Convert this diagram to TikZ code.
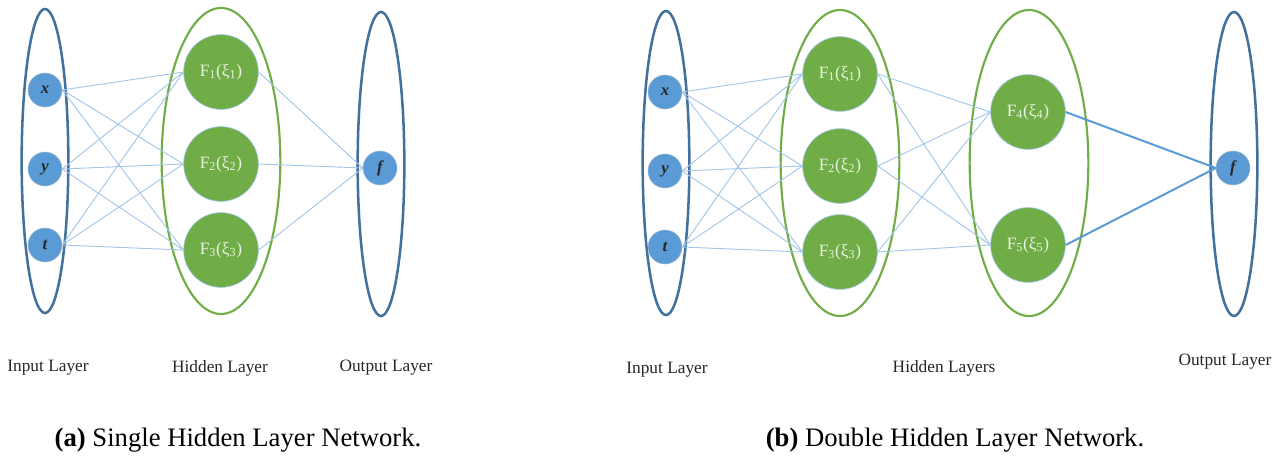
\documentclass[tikz,border=0pt]{standalone}
\usepackage{fontspec}
\setmainfont{Liberation Serif}
\usetikzlibrary{shapes.geometric}
\definecolor{inblue}{HTML}{5B9BD5}
\definecolor{darkblue}{HTML}{41719C}
\definecolor{hgreen}{HTML}{70AD47}
\definecolor{edgeblue}{HTML}{A3C6E8}
\definecolor{ftext}{HTML}{EAF2E3}
\begin{document}
\begin{tikzpicture}[x=0.75pt,y=-0.75pt,
  layerio/.style={ellipse, draw=darkblue, line width=1.9pt, minimum width=35pt, minimum height=228pt, inner sep=0pt},
  layerhid/.style={ellipse, draw=hgreen, line width=1.6pt, minimum width=89pt, minimum height=229.5pt, inner sep=0pt},
  inode/.style={circle, fill=inblue, draw=darkblue!50, line width=0.4pt, minimum size=25.5pt, inner sep=0pt, font=\fontsize{12.5}{13}\selectfont\bfseries\itshape, text=black!85},
  fnode/.style={circle, fill=hgreen, draw=inblue!60, line width=0.5pt, minimum size=56pt, inner sep=0pt, font=\fontsize{13}{14}\selectfont, text=ftext},
  conn/.style={draw=edgeblue, line width=0.7pt},
  strong/.style={draw=inblue, line width=1.5pt},
  lbl/.style={font=\fontsize{13}{15}\selectfont, text=black!85, inner sep=0pt},
  capt/.style={font=\fontsize{20}{24}\selectfont, inner sep=0pt}]
\useasboundingbox (0,0) rectangle (1283,457);

% ---------- panel (a) ----------
\node[layerio] (inA) at (45,161) {};
\node[layerhid] (hidA) at (221,161) {};
\node[layerio] (outA) at (381,164) {};

\node[inode] (ax) at (45,90) {x};
\node[inode] (ay) at (45,169) {y};
\node[inode] (at) at (45,245) {t};
\node[fnode] (aF1) at (221,72) {F\textsubscript{1}(ξ\textsubscript{1})};
\node[fnode] (aF2) at (221,164) {F\textsubscript{2}(ξ\textsubscript{2})};
\node[fnode] (aF3) at (221,250) {F\textsubscript{3}(ξ\textsubscript{3})};
\node[inode] (af) at (380,168) {f};

\foreach \i in {ax,ay,at}{
  \foreach \j in {aF1,aF2,aF3}{
    \draw[conn] (\i.east) -- (\j.west);
  }
}
\foreach \j in {aF1,aF2,aF3}{
  \draw[conn] (\j.east) -- (af.west);
}

\node[lbl] (la1) at (48,368) {Input Layer};
\node[lbl] (la2) at (220,368) {Hidden Layer};
\node[lbl] (la3) at (386,368) {Output Layer};
\node[capt] (capa) at (238,440) {\textbf{(a)} Single Hidden Layer Network.};

% ---------- panel (b) ----------
\node[layerio] (inB) at (666,163) {};
\node[layerhid] (hid1B) at (840,163) {};
\node[layerhid] (hid2B) at (1029,163) {};
\node[layerio] (outB) at (1234,164) {};

\node[inode] (bx) at (665,92) {x};
\node[inode] (by) at (665,171) {y};
\node[inode] (bt) at (665,247) {t};
\node[fnode] (bF1) at (840,74) {F\textsubscript{1}(ξ\textsubscript{1})};
\node[fnode] (bF2) at (840,166) {F\textsubscript{2}(ξ\textsubscript{2})};
\node[fnode] (bF3) at (840,252) {F\textsubscript{3}(ξ\textsubscript{3})};
\node[fnode] (bF4) at (1028,112) {F\textsubscript{4}(ξ\textsubscript{4})};
\node[fnode] (bF5) at (1028,245) {F\textsubscript{5}(ξ\textsubscript{5})};
\node[inode] (bf) at (1233,168) {f};

\foreach \i in {bx,by,bt}{
  \foreach \j in {bF1,bF2,bF3}{
    \draw[conn] (\i.east) -- (\j.west);
  }
}
\foreach \i in {bF1,bF2,bF3}{
  \foreach \j in {bF4,bF5}{
    \draw[conn] (\i.east) -- (\j.west);
  }
}
\draw[strong] (bF4.east) -- (bf.west);
\draw[strong] (bF5.east) -- (bf.west);

\node[lbl] (lb1) at (667,370) {Input Layer};
\node[lbl] (lb2) at (944,368) {Hidden Layers};
\node[lbl] (lb3) at (1225,362) {Output Layer};
\node[capt] (capb) at (955,440) {\textbf{(b)} Double Hidden Layer Network.};
\end{tikzpicture}
\end{document}
